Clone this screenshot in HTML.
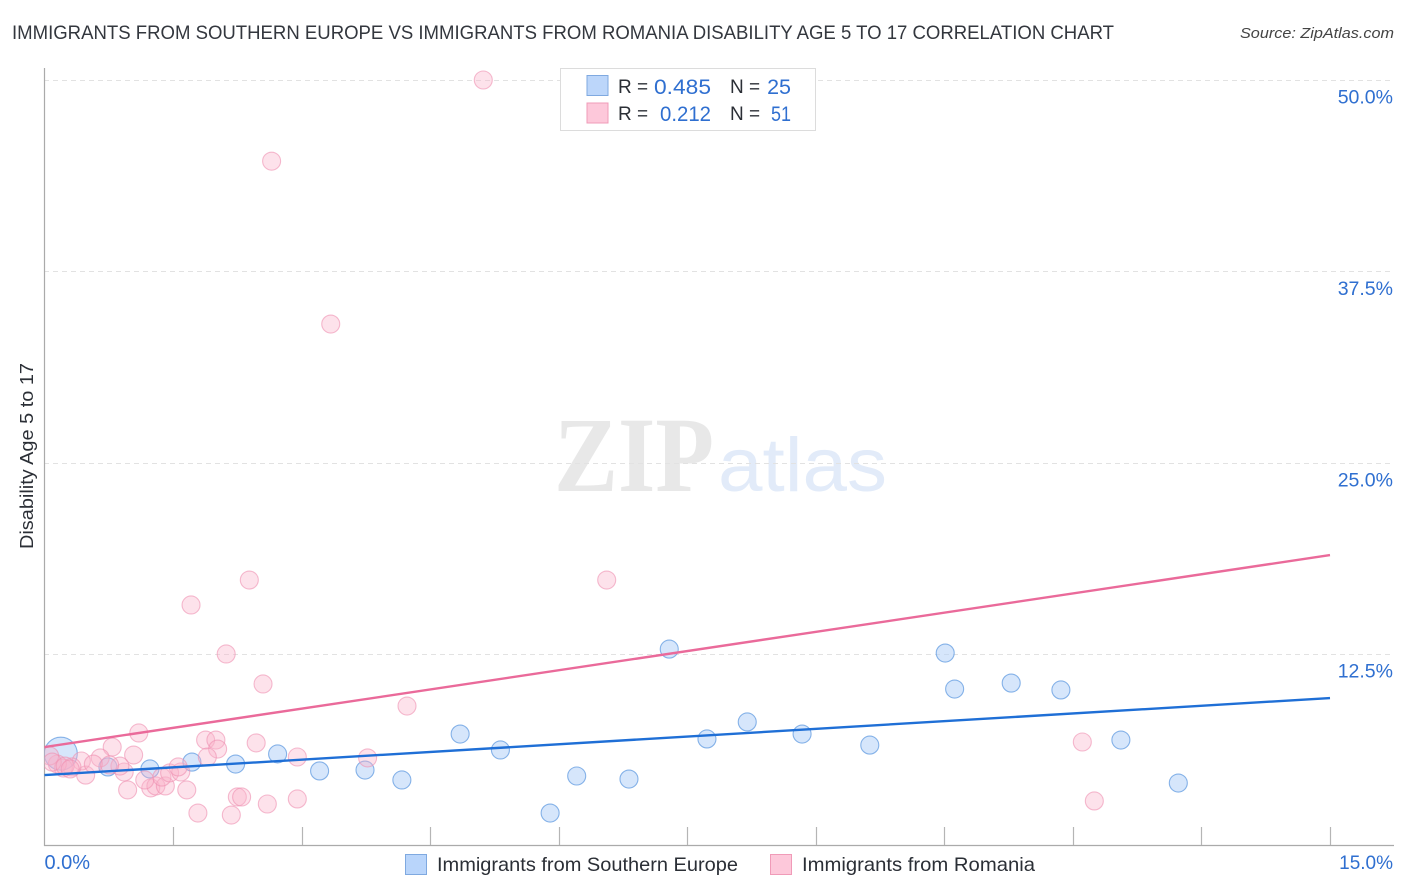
<!DOCTYPE html>
<html>
<head>
<meta charset="utf-8">
<style>
html,body{margin:0;padding:0;background:#fff;}
svg{display:block;font-family:"Liberation Sans",sans-serif;}
</style>
</head>
<body>
<svg id="chart" width="1406" height="892" viewBox="0 0 1406 892" xmlns="http://www.w3.org/2000/svg">
  <defs>
    <clipPath id="plot-clip"><rect x="44.5" y="60" width="1350" height="786"/></clipPath>
  </defs>
  <rect width="1406" height="892" fill="#fff"/>
  <text x="12" y="39" font-size="19.5" fill="#33373e" textLength="1102" lengthAdjust="spacingAndGlyphs">IMMIGRANTS FROM SOUTHERN EUROPE VS IMMIGRANTS FROM ROMANIA DISABILITY AGE 5 TO 17 CORRELATION CHART</text>
  <text x="1394" y="38" font-size="15" font-style="italic" fill="#444" text-anchor="end" textLength="154" lengthAdjust="spacingAndGlyphs">Source: ZipAtlas.com</text>
  <g>
    <text x="554" y="491" font-family="'Liberation Serif',serif" font-weight="bold" font-size="107" fill="#e8e8e8" textLength="160" lengthAdjust="spacingAndGlyphs">ZIP</text>
    <text x="718" y="491" font-size="76" fill="#e2ebf9" textLength="169" lengthAdjust="spacingAndGlyphs">atlas</text>
  </g>
  <g id="grid"></g>
  <g id="axes"></g>
  <g id="blue-points" clip-path="url(#plot-clip)"></g>
  <g id="pink-points" clip-path="url(#plot-clip)"></g>
  <g id="lines"></g>
  <g id="tick-labels"></g>
  <text transform="translate(33,456) rotate(-90)" font-size="18.5" fill="#2b2f36" text-anchor="middle" textLength="186" lengthAdjust="spacingAndGlyphs">Disability Age 5 to 17</text>

  <g>
    <rect x="560.5" y="68.5" width="255" height="62" fill="#fff" stroke="#dcdcdc"/>
    <rect x="587" y="75.500" width="21" height="20" fill="#bcd6fa" stroke="#7fa9e0"/>
    <rect x="587" y="103" width="21" height="20" fill="#fdc8da" stroke="#f09bb8"/>
    <text x="618" y="93" font-size="19" fill="#2b2f36">R =</text>
    <text x="654" y="94" font-size="21.5" fill="#2f6fd0" textLength="57" lengthAdjust="spacingAndGlyphs">0.485</text>
    <text x="730" y="93" font-size="19" fill="#2b2f36">N =</text>
    <text x="791" y="94" font-size="21.5" fill="#2f6fd0" text-anchor="end">25</text>
    <text x="618" y="120" font-size="19" fill="#2b2f36">R =</text>
    <text x="660" y="121" font-size="21.5" fill="#2f6fd0" textLength="51" lengthAdjust="spacingAndGlyphs">0.212</text>
    <text x="730" y="120" font-size="19" fill="#2b2f36">N =</text>
    <text x="771" y="121" font-size="21.5" fill="#2f6fd0" textLength="20" lengthAdjust="spacingAndGlyphs">51</text>
  </g>

  <g>
    <g>
      <rect x="405.500" y="854.500" width="21" height="20" fill="#b9d5fb" stroke="#7fa9e0"/>
      <text x="437" y="871" font-size="19.5" fill="#2b2f36" textLength="301" lengthAdjust="spacingAndGlyphs">Immigrants from Southern Europe</text>
    </g>
    <g>
      <rect x="770.500" y="854.500" width="21" height="20" fill="#fdc8da" stroke="#f09bb8"/>
      <text x="802" y="871" font-size="19.5" fill="#2b2f36" textLength="233" lengthAdjust="spacingAndGlyphs">Immigrants from Romania</text>
    </g>
  </g>
</svg>
<script>
const yTickValues = [12.5, 25, 37.5, 50];
const yTickLabels = ["12.5%", "25.0%", "37.5%", "50.0%"];
const xTickValues = [1.5, 3, 4.5, 6, 7.5, 9, 10.5, 12, 13.5, 15];
const xEndValues = [0, 15];
const xEndLabels = ["0.0%", "15.0%"];

const blueX = [0.19,0.74,1.23,1.72,2.23,2.72,3.21,3.74,4.17,4.85,5.32,5.90,6.21,6.82,7.29,7.73,8.20,8.84,9.63,10.51,10.62,11.28,11.86,12.56,13.23];
const blueY = [6.00,5.13,5.00,5.45,5.32,5.98,4.87,4.93,4.28,7.28,6.24,2.12,4.54,4.34,12.83,6.96,8.07,7.28,6.56,12.57,10.22,10.61,10.16,6.89,4.08];
const blueWeight = [3.36,1,1,1,1,1,1,1,1,1,1,1,1,1,1,1,1,1,1,1,1,1,1,1,1];

const pinkX = [5.12,2.65,3.34,2.39,6.56,1.71,2.12,2.55,4.23,1.10,0.79,1.88,2.00,2.02,2.47,1.90,1.04,2.95,3.77,12.11,12.25,2.95,2.25,2.30,2.60,1.79,2.18,1.66,0.97,1.24,1.30,1.41,1.17,1.37,1.46,1.59,1.56,0.93,0.88,0.48,0.65,0.43,0.57,0.32,0.22,0.15,0.06,0.09,0.24,0.30,0.76];
const pinkY = [50.0,44.7,34.06,17.34,17.34,15.71,12.51,10.55,9.11,7.35,6.43,6.89,6.89,6.30,6.70,5.78,5.91,5.78,5.72,6.76,2.91,3.04,3.17,3.17,2.71,2.12,1.99,3.63,3.63,3.76,3.89,3.89,4.28,4.47,4.74,4.80,5.13,4.80,5.19,4.60,5.72,5.52,5.32,5.13,5.06,5.32,5.85,5.45,5.19,5.00,5.26];

const blueTrendX = [0, 15];
const blueTrendY = [4.6, 9.63];
const pinkTrendX = [0, 15];
const pinkTrendY = [6.43, 18.97];

const NS = "http://www.w3.org/2000/svg";
const xPos = v => 44.5 + v * (1330 - 44.5) / 15;
const yPos = v => 845.5 - v * (845.5 - 80) / 50;

function make(parentId, tag, attrs) {
  const el = document.createElementNS(NS, tag);
  for (const k in attrs) el.setAttribute(k, attrs[k]);
  document.getElementById(parentId).appendChild(el);
  return el;
}

yTickValues.forEach((v, i) => {
  const y = Math.round(yPos(v)) + 0.5;
  const g = make("grid", "line", {x1: 44, x2: 1394, y1: y, y2: y, stroke: "#e2e2e2", "stroke-width": 1, "stroke-dasharray": "5 4"});
  
  
  const t = make("tick-labels", "text", {x: 1393, y: yPos(v) + 23.5, "font-size": 19.5, fill: "#2f6fd0", "text-anchor": "end"});
  t.textContent = yTickLabels[i];
  
  
});

const axisY = make("axes", "line", {x1: 44.5, x2: 44.5, y1: 68, y2: 846, stroke: "#aaa", "stroke-width": 1.2});


const axisX = make("axes", "line", {x1: 44, x2: 1394, y1: 845.5, y2: 845.5, stroke: "#aaa", "stroke-width": 1.2});



xTickValues.forEach(v => {
  const x = Math.round(xPos(v)) + 0.5;
  const tk = make("axes", "line", {x1: x, x2: x, y1: 827, y2: 845, stroke: "#b5b5b5", "stroke-width": 1.2});
  
  
});

xEndValues.forEach((v, i) => {
  const t = make("tick-labels", "text", {
    x: i === 0 ? xPos(v) : 1393,
    y: 869,
    "font-size": i === 0 ? 20 : 19,
    fill: "#2f6fd0",
    "text-anchor": i === 0 ? "start" : "end"
  });
  t.textContent = xEndLabels[i];
  
  
});

blueX.forEach((v, i) => {
  const c = make("blue-points", "circle", {cx: xPos(v), cy: yPos(blueY[i]), r: 9 * Math.sqrt(blueWeight[i]), fill: "#b5d2f7", "fill-opacity": 0.55, stroke: "#72a6e4", "stroke-opacity": 0.85, "stroke-width": 1.1});
  
  
});

pinkX.forEach((v, i) => {
  const c = make("pink-points", "circle", {cx: xPos(v), cy: yPos(pinkY[i]), r: 9, fill: "#f9b4cb", "fill-opacity": 0.38, stroke: "#ee8fb0", "stroke-opacity": 0.6, "stroke-width": 1.1});
  
  
});

const pinkLine = make("lines", "line", {x1: xPos(pinkTrendX[0]), y1: yPos(pinkTrendY[0]), x2: xPos(pinkTrendX[1]), y2: yPos(pinkTrendY[1]), stroke: "#ea6a9a", "stroke-width": 2.4});


const blueLine = make("lines", "line", {x1: xPos(blueTrendX[0]), y1: yPos(blueTrendY[0]), x2: xPos(blueTrendX[1]), y2: yPos(blueTrendY[1]), stroke: "#1f6fd6", "stroke-width": 2.4});


</script>
</body>
</html>
